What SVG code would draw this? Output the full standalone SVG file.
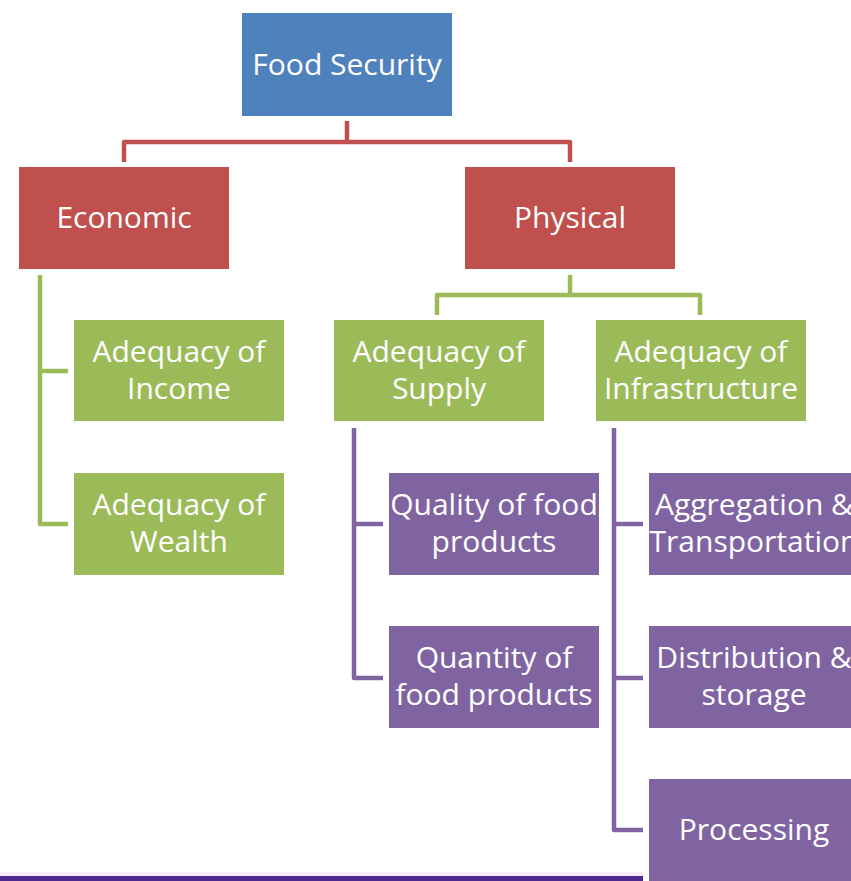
<svg xmlns="http://www.w3.org/2000/svg" width="851" height="881" viewBox="0 0 851 881">
<style>
.t{font-family:"Open Sans","Noto Sans",sans-serif;font-size:30px;fill:#fff;text-anchor:middle}
.b{fill:#4F81BD}.r{fill:#C0504D}.g{fill:#9BBB59}.p{fill:#8064A2}
.c{fill:none;stroke-width:4.5;stroke-linejoin:round}
</style>
<rect width="851" height="881" fill="#fff"/>
<g id="connectors">
<path class="c" stroke="#C0504D" d="M347 121V142H124V162M347 142H570V162"/>
<path class="c" stroke="#9BBB59" d="M40 275V524H68M40 371H68"/>
<path class="c" stroke="#9BBB59" d="M570 275V295H437V315M570 295H700V315"/>
<path class="c" stroke="#8064A2" d="M354 428V678H383M354 524H383"/>
<path class="c" stroke="#8064A2" d="M614 428V830H643M614 524H643M614 678H643"/>
</g>
<g id="food-security"><rect class="b" x="242" y="13" width="210" height="103"/><text class="t" x="347" y="75">Food Security</text></g>
<g id="economic"><rect class="r" x="19" y="167" width="210" height="102"/><text class="t" x="124" y="228">Economic</text></g>
<g id="physical"><rect class="r" x="465" y="167" width="210" height="102"/><text class="t" x="570" y="228">Physical</text></g>
<g id="income"><rect class="g" x="74" y="320" width="210" height="101"/><text class="t" x="179" y="362">Adequacy of</text><text class="t" x="179" y="399">Income</text></g>
<g id="wealth"><rect class="g" x="74" y="473" width="210" height="102"/><text class="t" x="179" y="515">Adequacy of</text><text class="t" x="179" y="552">Wealth</text></g>
<g id="supply"><rect class="g" x="334" y="320" width="210" height="101"/><text class="t" x="439" y="362">Adequacy of</text><text class="t" x="439" y="399">Supply</text></g>
<g id="infrastructure"><rect class="g" x="596" y="320" width="210" height="101"/><text class="t" x="701" y="362">Adequacy of</text><text class="t" x="701" y="399">Infrastructure</text></g>
<g id="quality"><rect class="p" x="389" y="473" width="210" height="102"/><text class="t" x="494" y="515">Quality of food</text><text class="t" x="494" y="552">products</text></g>
<g id="quantity"><rect class="p" x="389" y="626" width="210" height="102"/><text class="t" x="494" y="668">Quantity of</text><text class="t" x="494" y="705">food products</text></g>
<g id="aggregation"><rect class="p" x="649" y="473" width="210" height="102"/><text class="t" x="754" y="515">Aggregation &amp;</text><text class="t" x="754" y="552">Transportation</text></g>
<g id="distribution"><rect class="p" x="649" y="626" width="210" height="102"/><text class="t" x="754" y="668">Distribution &amp;</text><text class="t" x="754" y="705">storage</text></g>
<g id="processing"><rect class="p" x="649" y="779" width="210" height="102"/><text class="t" x="754" y="840">Processing</text></g>
<rect x="0" y="872" width="643" height="4" fill="#F6EAF4"/>
<rect x="0" y="876" width="643" height="5" fill="#4B2991"/>
</svg>
